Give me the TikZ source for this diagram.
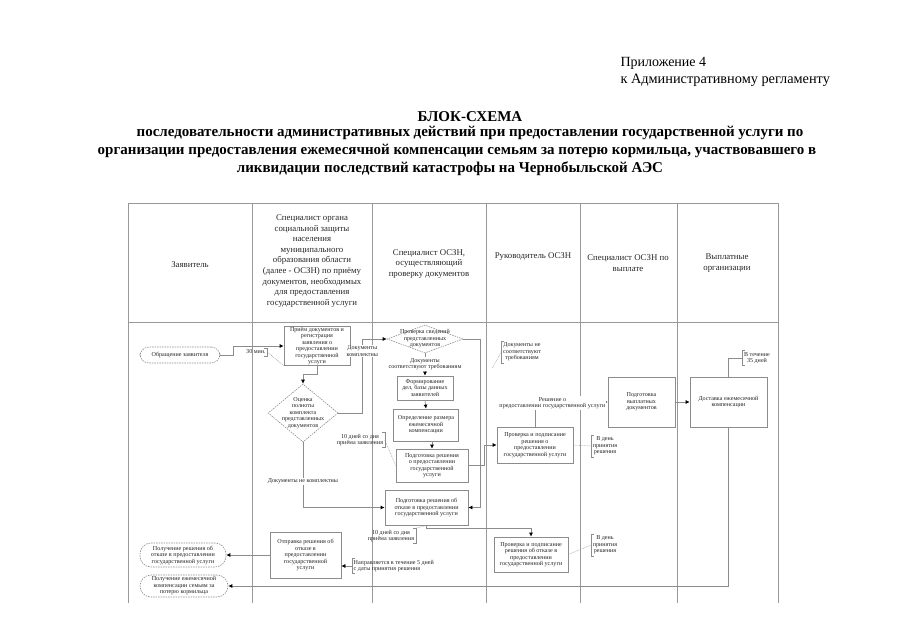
\documentclass[tikz,border=0pt]{standalone}
\usepackage{fontspec}
\setmainfont{Liberation Serif}
\usetikzlibrary{positioning,shapes.geometric,arrows.meta,calc}
\tikzset{
    % Swimlane grid lines
    lane/.style={
        draw=black!40,
        line width=0.8pt
    },
    % Lane header text
    lanehead/.style={
        font=\fontsize{8.8}{10.6}\selectfont,
        align=center,
        text=black!85
    },
    % Process boxes
    stepbox/.style={
        draw=black!45,
        fill=white,
        line width=0.7pt,
        align=center,
        inner sep=0.5pt,
        font=\fontsize{6.1}{6.5}\selectfont,
        text=black!85
    },
    % Decision diamonds
    decision/.style={
        diamond,
        draw=black!45,
        fill=white,
        dash pattern=on 1.5pt off 1pt,
        line width=0.6pt,
        inner sep=0pt
    },
    % Start and end ovals
    terminal/.style={
        draw=black!45,
        fill=white,
        dash pattern=on 1.5pt off 1pt,
        line width=0.6pt,
        rounded corners=9pt,
        align=center,
        inner sep=0.5pt,
        font=\fontsize{6.1}{6.5}\selectfont,
        text=black!85
    },
    % Annotation text
    note/.style={
        font=\fontsize{6.1}{6.5}\selectfont,
        align=center,
        text=black!85,
        inner sep=1.5pt
    },
    % Connector labels
    flowlabel/.style={
        note,
        fill=white,
        inner sep=1pt
    },
    % Annotation brackets and their leaders
    bracket/.style={
        draw=black!45,
        line width=0.5pt
    },
    callout/.style={
        draw=black!45,
        line width=0.4pt,
        dash pattern=on 0.8pt off 0.8pt
    },
    % Flow arrows
    flow/.style={
        draw=black!45,
        line width=0.7pt,
        -{Latex[length=4pt,width=4pt,color=black]}
    },
    % Title lines
    titleline/.style={
        font=\fontsize{15}{17}\selectfont\bfseries
    }
}

\begin{document}
\begin{tikzpicture}[x=1pt,y=-1pt]
\useasboundingbox (0,0) rectangle (905,640);

% ==================== TITLE ====================
\node[anchor=west, font=\fontsize{14}{16}\selectfont] (appx) at (617,63) {Приложение 4};
\node[anchor=west, font=\fontsize{14.3}{16}\selectfont] (regl) at (617,80) {к Административному регламенту};
\node[titleline] (ttl) at (470,117) {БЛОК-СХЕМА};
\node[titleline] (sub1) at (470,133)
    {последовательности административных действий при предоставлении государственной услуги по};
\node[titleline] (sub2) at (457,151)
    {организации предоставления ежемесячной компенсации семьям за потерю кормильца, участвовавшего в};
\node[titleline] (sub3) at (450,169)
    {ликвидации последствий катастрофы на Чернобыльской АЭС};

% ==================== SWIMLANES ====================
\draw[lane] (128,603) -- (128,203) -- (778,203) -- (778,603);
\foreach \xl in {252,372,486,580,677}
    \draw[lane] (\xl,203) -- (\xl,603);
\draw[lane] (128,322) -- (778,322);

\node[lanehead] (hApplicant) at (190,265) {Заявитель};
\node[lanehead] (hReception) at (312,261) {Специалист органа\\социальной защиты\\населения\\муниципального\\образования  области\\(далее - ОСЗН) по приёму\\документов, необходимых\\для предоставления\\государственной услуги};
\node[lanehead] (hChecker) at (429,264) {Специалист ОСЗН,\\осуществляющий\\проверку документов};
\node[lanehead] (hHead) at (533,257) {Руководитель ОСЗН};
\node[lanehead] (hPayment) at (628,263) {Специалист ОСЗН по\\выплате};
\node[lanehead] (hPayers) at (727,263) {Выплатные\\организации};

% ==================== RECEPTION ====================
\node[terminal, minimum width=80pt, minimum height=16pt] (apply) at (180,355) {Обращение заявителя};
\node[stepbox, minimum width=66pt, minimum height=39pt] (receive) at (317,346)
    {Приём документов и\\регистрация\\заявления о\\предоставлении\\государственной\\услуги};
\node[decision, minimum width=70pt, minimum height=58pt,
    label={[note]center:Оценка\\полноты\\комплекта\\представленных\\документов}] (complete) at (303,413) {};

\draw[flow] (apply.east) -- ++(13,0) |- (receive.west);
\draw[flow] (receive.south) -- ++(0,8) -| (complete.north);

% ==================== CHECK ====================
\node[decision, minimum width=76pt, minimum height=28pt,
    label={[note]center:Проверка сведений\\представленных\\документов}] (verify) at (425,339) {};
\node[stepbox, minimum width=56pt, minimum height=24pt] (files) at (425,388)
    {Формирование\\дел, базы данных\\заявителей};
\node[stepbox, minimum width=65pt, minimum height=32pt] (amount) at (426,425)
    {Определение размера\\ежемесячной\\компенсации};
\node[stepbox, minimum width=72pt, minimum height=33pt] (grantprep) at (432,465.5)
    {Подготовка решения\\о предоставлении\\государственной\\услуги};
\node[stepbox, minimum width=83pt, minimum height=35pt] (refuseprep) at (426.5,507.5)
    {Подготовка решения об\\отказе в предоставлении\\государственной услуги};

\draw[flow] (complete.east) -- ++(24,0) |- (verify.west)
    node[flowlabel, pos=0.42] {Документы\\комплектны};
\draw[flow] (complete.south) |- (refuseprep.west)
    node[flowlabel, pos=0.3] {Документы не комплектны};
\draw[flow] (verify.south) -- (files.north)
    node[flowlabel, midway, yshift=0.5pt] {Документы\\соответствуют требованиям};
\draw[flow] (files.south) -- (amount.north);
\draw[flow] (grantprep.north |- amount.south) -- (grantprep.north);
\draw[flow] (verify.east) -- ++(17,0) |- (refuseprep.east);

% ==================== HEAD OF OSZN ====================
\node[stepbox, minimum width=76pt, minimum height=36pt] (grantsign) at (535,445)
    {Проверка и подписание\\решения о\\предоставлении\\государственной услуги};
\node[stepbox, minimum width=74pt, minimum height=35pt] (refusesign) at (531,554.5)
    {Проверка и подписание\\решения об отказе в\\предоставлении\\государственной услуги};

\draw[flow] (grantprep.east) -- ++(16,0) |- (grantsign.west);
\draw[flow] (refuseprep.south) -- ++(0,3) -| (refusesign.north);

% ==================== PAYMENT ====================
\node[stepbox, minimum width=67pt, minimum height=50pt] (payprep) at (641.5,402)
    {Подготовка\\выплатных\\документов};
\node[stepbox, minimum width=77pt, minimum height=50pt] (delivery) at (728.5,402)
    {Доставка ежемесячной\\компенсации};

\draw[flow] (grantsign.north) |- (payprep.west)
    node[flowlabel, pos=0.62, yshift=-1pt] {Решение о\\предоставлении государственной услуги};
\draw[flow] (payprep.east) -- (delivery.west);

% ==================== OUTCOMES ====================
\node[stepbox, minimum width=71pt, minimum height=46pt] (sendrefuse) at (305.5,555)
    {Отправка решения об\\отказе в\\предоставлении\\государственной\\услуги};
\node[terminal, minimum width=86pt, minimum height=24pt, rounded corners=11pt] (gotrefuse) at (183,555)
    {Получение решения об\\отказе в предоставлении\\государственной услуги};
\node[terminal, minimum width=88pt, minimum height=22pt, rounded corners=11pt] (gotpay) at (184,586)
    {Получение ежемесячной\\компенсации семьям за\\потерю кормильца};

\draw[flow] (sendrefuse.west) -- (gotrefuse.east);
\draw[flow] (delivery.south) |- (gotpay.east);

% ==================== ANNOTATIONS ====================
\node[note] (n30) at (256,352) {30 мин.};
\draw[bracket] ($(n30.north east)+(-3,0)$) -- (n30.north east) -- (n30.south east) -- ++(-3,0);
\draw[callout] (n30.east) -- (receive.south west);

\node[note] (n10a) at (360,440) {10 дней со дня\\приёма заявления};
\draw[bracket] ($(n10a.north east)+(-3,0)$) -- (n10a.north east) -- (n10a.south east) -- ++(-3,0);
\draw[callout] (n10a.east) -- (grantprep.west);

\node[note] (nmismatch) at (522,352) {Документы не\\соответствуют\\требованиям};
\draw[bracket] ($(nmismatch.north west)+(3,0)$) -- (nmismatch.north west) -- (nmismatch.south west) -- ++(3,0);
\draw[callout] (nmismatch.west) -- ++(-9,16);

\node[note] (nday1) at (605,446) {В день\\принятия\\решения};
\draw[bracket] ($(nday1.north west)+(3,0)$) -- (nday1.north west) -- (nday1.south west) -- ++(3,0);
\draw[callout] (nday1.west) -- (grantsign.east);

\node[note] (nday2) at (605,545) {В день\\принятия\\решения};
\draw[bracket] ($(nday2.north west)+(3,0)$) -- (nday2.north west) -- (nday2.south west) -- ++(3,0);
\draw[callout] (nday2.west) -- (refusesign.east);

\node[note] (n35) at (757,358) {В течение\\35 дней};
\draw[bracket] ($(n35.north west)+(3,0)$) -- (n35.north west) -- (n35.south west) -- ++(3,0);
\draw[bracket] (n35.west) -| (delivery.north);

\node[note] (n10b) at (391,536) {10 дней со дня\\приёма заявления};
\draw[bracket] ($(n10b.north east)+(-3,0)$) -- (n10b.north east) -- (n10b.south east) -- ++(-3,0);
\draw[callout] (n10b.north east) -- (refuseprep.south);

\node[note, align=left, anchor=west] (n5days) at (352,566) {Направляется в течение 5 дней\\с даты принятия решения};
\draw[bracket] ($(n5days.north west)+(3,0)$) -- (n5days.north west) -- (n5days.south west) -- ++(3,0);
\draw[flow] (n5days.west) -- (n5days.west -| sendrefuse.east);

\end{tikzpicture}
\end{document}
